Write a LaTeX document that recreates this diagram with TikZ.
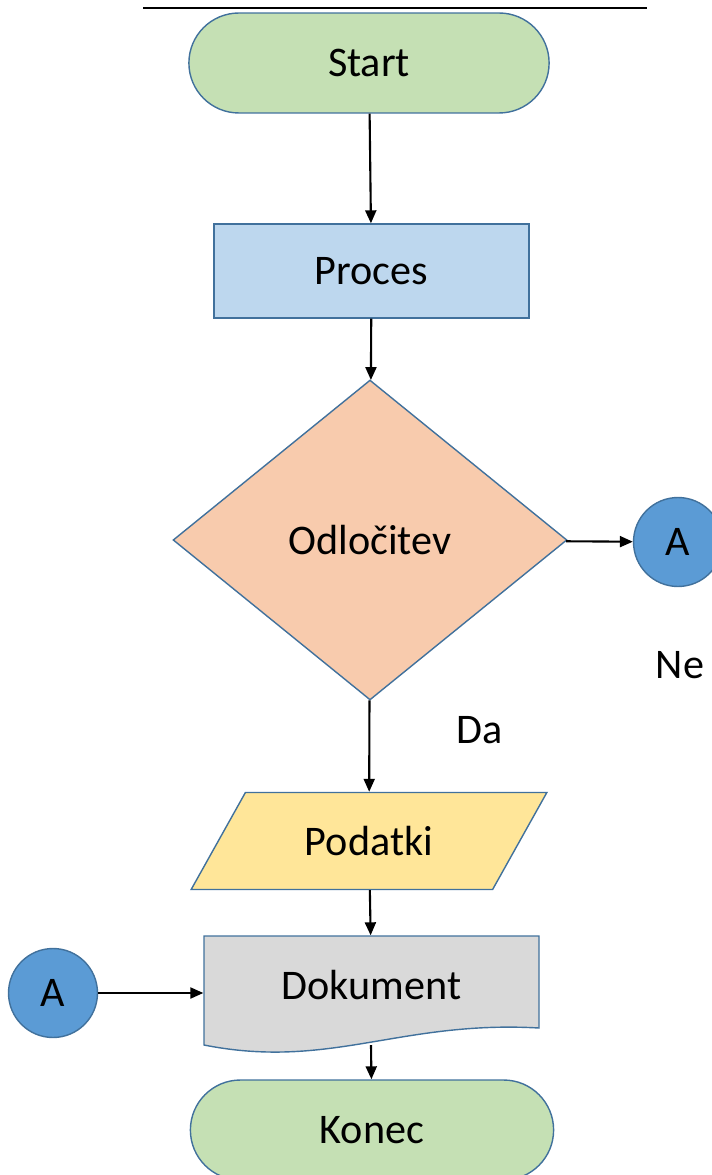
\documentclass[tikz,border=0pt]{standalone}
\usepackage{fontspec}
\setmainfont{Carlito}
\usetikzlibrary{shapes.geometric, shapes.misc, arrows.meta}

\definecolor{edgeblue}{HTML}{41719C}
\definecolor{termgreen}{HTML}{C5E0B4}
\definecolor{procblue}{HTML}{BDD7EE}
\definecolor{decpeach}{HTML}{F8CBAD}
\definecolor{datayellow}{HTML}{FFE699}
\definecolor{docgrey}{HTML}{D9D9D9}
\definecolor{connblue}{HTML}{5B9BD5}

\begin{document}
\begin{tikzpicture}[x = 0.02cm, y = -0.02cm, line width = 0.8pt,
                    every node/.style = {font = \fontsize{24}{28}\selectfont},
                    term/.style = {rounded rectangle, draw = edgeblue, fill = termgreen, minimum width = 7.44cm, minimum height = 2cm},
                    proc/.style = {rectangle, draw = edgeblue, fill = procblue, minimum width = 6.3cm, minimum height = 1.88cm},
                    decision/.style = {diamond, draw = edgeblue, fill = decpeach, inner sep = 0pt, minimum width = 7.88cm, minimum height = 6.4cm},
                    data/.style = {trapezium, trapezium stretches = true, trapezium left angle = 53.4, trapezium right angle = 126.6,
                                   draw = edgeblue, fill = datayellow, minimum width = 7.12cm, minimum height = 1.94cm},
                    conn/.style = {circle, draw = edgeblue, fill = connblue, minimum size = 1.78cm, inner sep = 0pt},
                    arr/.style = {-{Triangle[length = 0.26cm, width = 0.22cm]}, line width = 1.2pt, black}]

\useasboundingbox (0,0) rectangle (712,1175);

% rule at the top
\coordinate (R1) at (143,8);
\coordinate (R2) at (647,8);
\draw[line width = 0.6pt] (R1) -- (R2);

\node [term] (start) at (369,63) {Start};
\node [proc] (proc) at (371.5,271) {Proces};
\node [decision] (dec) at (370,540) {Odločitev};
\node [conn] (A1) at (678,542) {A};
\node at (680,665) (ne) {Ne};
\node at (480,730) (da) {Da};
\node [data] (pod) at (369,841) {Podatki};

% document shape
\draw[draw = edgeblue, fill = docgrey] (204,936) -- (539,936) -- (539,1028)
    .. controls (400,1020) and (330,1070) .. (204,1045) -- cycle;
\node [minimum width = 6.7cm, minimum height = 1.96cm] (dok) at (371.5,985) {Dokument};
\coordinate (dokbot) at (371,1045);

\node [conn] (A2) at (53,993) {A};
\node [term, minimum width = 7.5cm] (konec) at (372,1130) {Konec};

\draw[arr] (start) -- (proc);
\draw[arr] (proc) -- (dec);
\draw[arr] (dec) -- (A1);
\draw[arr] (dec) -- (pod);
\draw[arr] (pod) -- (dok);
\draw[arr] (A2) -- (A2 -| dok.west);
\draw[arr] (dokbot) -- (konec);
\end{tikzpicture}
\end{document}
